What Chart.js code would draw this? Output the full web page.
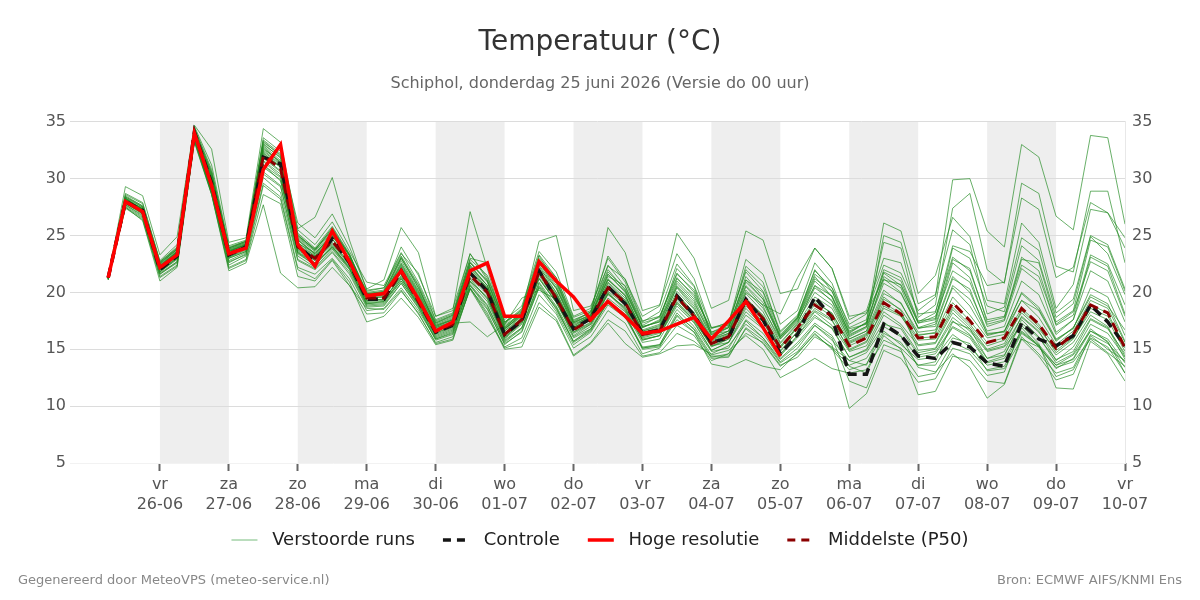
<!DOCTYPE html>
<html>
<head>
<meta charset="utf-8">
<script src="https://cdn.jsdelivr.net/npm/chart.js@4.4.1/dist/chart.umd.min.js"></script>
<style>
  body { margin: 0; background: #fff; font-family: "DejaVu Sans", sans-serif; }
  #wrap { position: relative; width: 1200px; height: 600px; }
  .foot { position: absolute; top: 572px; font-size: 13px; color: #888; }
</style>
</head>
<body>
<div id="wrap">
  <canvas id="plume" width="1200" height="600"></canvas>
  <div class="foot" style="left:18px">Gegenereerd door MeteoVPS (meteo-service.nl)</div>
  <div class="foot" style="right:18px">Bron: ECMWF AIFS/KNMI Ens</div>
</div>
<script>
// Temperature plume Schiphol - ensemble runs, control, HRES and median
// x values are hours after 25-06 00:00

const runHours = [6, 12, 18,
    24, 30, 36, 42, 48, 54, 60, 66, 72, 78, 84, 90, 96, 102, 108, 114,
    120, 126, 132, 138, 144, 150, 156, 162, 168, 174, 180, 186, 192, 198, 204, 210,
    216, 222, 228, 234, 240, 246, 252, 258, 264, 270, 276, 282, 288, 294, 300, 306,
    312, 318, 324, 330, 336, 342, 348, 354, 360];

const dayTicks = [24, 48, 72, 96, 120, 144, 168, 192, 216, 240, 264, 288, 312, 336, 360];
const dayNames = ['vr', 'za', 'zo', 'ma', 'di', 'wo', 'do', 'vr', 'za', 'zo', 'ma', 'di', 'wo', 'do', 'vr'];
const dayDates = ['26-06', '27-06', '28-06', '29-06', '30-06', '01-07', '02-07', '03-07',
    '04-07', '05-07', '06-07', '07-07', '08-07', '09-07', '10-07'];
const shadedDays = [24, 72, 120, 168, 216, 264, 312];

// Hoge resolutie (ends at +240h)
const hres = [21.3, 28.0, 27.1,
    22.2, 23.3, 34.0, 29.4, 23.4, 23.9, 30.8, 33.0, 24.2, 22.3, 25.4, 22.7,
    19.7, 19.9, 21.9, 19.4, 16.6, 17.4, 21.9, 22.6, 17.9, 17.9, 22.7, 21.0,
    19.6, 17.6, 19.2, 17.9, 16.4, 16.6, 17.2, 17.8, 15.9, 17.5, 19.2, 16.9, 14.4];

const control = [21.3, 28.0, 27.2,
    22.0, 23.2, 34.1, 29.6,  23.3, 24.0, 31.9, 31.3,  24.1, 22.8, 24.7, 22.6,
    19.4, 19.4, 21.9, 19.3,  16.5, 17.1, 21.7, 20.1,  16.3, 17.5, 21.9, 19.4,
    16.8, 17.7, 20.5, 19.0,  16.4, 16.7, 19.7, 18.0,  15.6, 16.0, 19.4, 17.6,
    14.6, 16.3, 19.6, 17.8,  12.8, 12.8, 17.2, 16.2,  14.4, 14.2, 15.6, 15.2,
    13.8, 13.5, 17.3, 15.9,  15.3, 16.2, 18.9, 17.4,  15.3];

const median = [21.3, 28.0, 27.1,
    22.1, 23.3, 34.0, 29.4,  23.4, 24.0, 32.0, 30.9,  24.0, 23.0, 24.5, 22.7,
    19.5, 19.5, 21.8, 19.2,  16.6, 17.2, 21.5, 20.0,  16.3, 17.6, 21.8, 19.5,
    16.7, 17.6, 20.4, 19.1,  16.3, 16.6, 19.6, 17.9,  15.5, 16.1, 19.3, 17.7,
    15.1, 16.9, 18.9, 17.9,  15.3, 16.0, 19.1, 18.1,  16.0, 16.1, 19.1, 17.5,
    15.6, 16.0, 18.6, 17.2,  15.1, 16.3, 18.9, 18.2,  15.1];

// Verstoorde runs
const run01 = [21.2,28.4,27.6, 22.5,23.8,34.2,30.1, 23.8,24.3,33.1,31.8, 25.2,23.9,25.8,23.4, 19.8,20.1,23.1,20.4, 17.2,17.8,22.6,20.9, 17.0,18.1,22.9,21.0, 17.5,18.3,22.0,20.2, 17.1,17.9,21.3,19.6, 16.8,17.4,21.8,20.1, 16.5,17.9,21.6,20.4, 17.2,18.1,22.4,21.7, 18.4,19.6,29.9,30.0, 25.4,24.0,33.0,31.9, 26.7,25.5,33.8,33.6, 26.0];
const run02 = [21.4,28.7,27.9, 22.8,24.2,34.6,31.2, 24.1,24.6,33.6,32.4, 26.1,24.8,26.9,24.0, 20.3,21.1,25.7,23.5, 17.9,18.6,23.4,21.3, 17.6,18.8,23.6,21.8, 17.9,18.6,23.0,20.9, 17.4,18.3,22.5,20.6, 16.9,17.3,22.9,21.6, 17.2,18.4,22.6,20.8, 16.9,17.6,24.4,23.9, 17.8,18.9,27.4,28.7, 22.0,20.8,29.6,28.7, 22.3,21.8,28.9,28.9, 22.6];
const run03 = [21.3,28.2,27.4, 22.4,23.6,34.1,30.3, 23.6,24.2,32.8,31.4, 24.8,23.6,25.3,23.2, 19.9,19.9,23.0,20.6, 17.0,17.6,22.3,20.6, 16.8,18.0,22.4,20.3, 17.1,17.9,21.6,20.0, 16.9,17.6,22.1,20.5, 16.1,16.9,21.1,19.4, 16.2,17.8,21.4,19.6, 16.4,17.4,26.1,25.4, 19.9,21.5,26.6,24.9, 19.3,19.0,26.1,24.4, 18.6,20.7,27.3,27.0, 24.8];
const run04 = [21.1,27.9,26.9, 22.0,23.1,33.8,29.1, 23.1,23.7,31.5,30.2, 23.6,22.6,24.0,22.3, 19.3,19.4,21.3,19.0, 16.4,17.0,21.0,19.5, 16.0,17.3,21.2,19.1, 16.4,17.2,19.8,18.7, 16.0,16.4,19.1,17.6, 15.2,15.9,18.8,17.4, 14.9,16.5,18.4,17.5, 15.0,15.7,18.6,17.9, 15.8,15.9,18.7,17.2, 15.3,15.8,18.2,16.8, 14.9,16.0,18.3,17.6, 14.8];
const run05 = [21.2,27.6,26.6, 21.6,22.6,33.4,28.8, 22.4,23.2,29.6,28.4, 22.2,21.6,23.0,21.2, 18.4,18.6,20.4,18.4, 15.9,16.4,20.6,18.6, 15.4,16.6,20.4,18.3, 15.4,16.5,18.9,17.8, 15.1,15.3,17.6,16.5, 14.2,14.3,16.9,15.8, 13.8,14.8,16.6,15.4, 9.8,11.1,14.9,14.2, 12.1,12.4,15.1,14.6, 12.7,13.0,16.9,15.2, 13.6,14.1,16.6,15.9, 13.8];
const run06 = [21.3,27.8,27.0, 21.8,22.9,33.6,29.0, 22.8,23.5,30.4,29.3, 23.2,22.2,23.8,22.0, 18.9,19.0,21.0,18.9, 16.1,16.7,20.9,19.2, 15.8,16.9,20.9,18.8, 16.0,16.8,19.5,18.3, 15.6,15.9,18.5,17.0, 14.8,15.1,17.6,16.4, 14.2,15.6,17.3,16.2, 13.5,12.9,16.2,15.0, 11.0,11.3,14.4,14.0, 12.2,12.0,16.1,14.6, 12.9,13.4,16.3,15.5, 13.9];
const run07 = [21.4,28.1,27.2, 22.2,23.4,34.1,29.6, 23.4,24.1,31.8,30.6, 23.8,22.8,24.2,22.4, 19.2,19.3,21.5,19.2, 16.3,16.9,21.2,19.4, 16.0,17.4,21.3,19.2, 16.5,17.3,20.0,18.5, 15.8,16.2,18.8,17.3, 14.9,15.6,18.0,16.8, 14.5,16.0,17.8,16.9, 14.3,14.9,17.4,16.2, 13.4,13.0,14.6,13.4, 10.7,11.9,15.9,14.4, 12.3,12.8,16.2,15.0, 14.0];
const run08 = [21.2,28.3,27.3, 22.3,23.5,34.3,29.9, 23.9,24.4,32.5,31.3, 24.6,23.4,25.0,22.9, 19.6,19.8,22.3,19.8, 16.8,17.4,21.9,20.3, 16.6,17.7,22.0,19.8, 16.9,17.7,20.8,19.3, 16.4,16.8,19.9,18.2, 15.6,16.2,19.4,17.9, 15.2,17.0,19.3,18.1, 15.6,16.3,19.6,18.4, 14.9,15.1,17.8,16.6, 14.8,15.2,17.1,15.5, 11.6,11.5,15.7,14.6, 12.2];
const run09 = [21.3,27.5,26.3, 21.0,22.2,33.2,28.6, 21.9,22.6,27.7,21.7, 20.4,20.5,22.2,20.6, 18.6,18.5,20.2,18.1, 15.6,16.1,20.3,17.8, 15.2,16.0,19.8,18.1, 15.1,16.1,18.4,17.3, 14.6,15.1,17.1,16.2, 14.0,14.6,16.4,15.6, 13.6,14.3,16.1,15.2, 14.0,13.6,17.2,16.8, 14.5,14.8,17.0,16.2, 13.9,14.4,17.6,16.1, 13.8,14.6,17.2,16.4, 14.3];
const run10 = [21.4,29.3,28.5, 23.3,24.9,34.7,32.6, 24.4,24.8,34.4,33.2, 25.6,26.6,30.1,24.6, 20.2,20.4,23.4,21.7, 17.5,18.1,22.9,21.5, 17.4,18.4,23.2,20.9, 17.4,18.0,21.4,20.6, 17.0,17.4,20.6,19.0, 16.3,16.6,20.2,18.6, 15.9,17.5,20.0,18.9, 15.9,16.6,20.2,19.0, 16.5,16.7,20.4,18.8, 16.2,16.6,19.9,18.5, 15.8,16.9,19.8,19.0, 15.7];
const run11 = [21.3,28.1,27.3, 22.6,23.9,34.0,29.9, 23.5,24.0,32.3,31.0, 24.3,23.5,24.9,23.0, 20.0,20.2,24.0,21.5, 17.9,18.4,27.1,22.1, 16.9,18.2,22.6,20.6, 17.2,17.9,21.1,19.8, 16.6,17.0,20.5,18.8, 15.9,16.4,20.5,18.8, 15.6,17.3,20.6,19.2, 15.9,16.6,21.4,20.4, 16.8,17.2,21.4,20.0, 16.6,17.0,21.0,19.8, 16.3,17.6,21.9,21.0, 17.4];
const run12 = [21.2,27.9,27.0, 21.9,23.0,33.7,29.2, 23.0,23.6,31.2,29.8, 23.5,22.4,24.1,22.1, 19.0,19.1,21.2,19.0, 16.5,17.3,17.4,16.1, 17.2,19.5,20.2,19.4, 16.1,17.0,19.9,18.4, 15.9,16.2,19.2,17.5, 15.3,15.6,18.6,17.0, 14.6,16.2,18.3,17.1, 14.8,15.3,18.3,17.2, 15.3,15.5,18.2,16.8, 14.9,15.3,17.8,16.5, 14.5,15.6,18.0,17.0, 14.4];
const run13 = [21.3,28.3,27.5, 22.3,23.6,34.2,30.0, 23.7,24.3,32.6,31.5, 24.9,23.7,25.5,23.3, 19.7,19.9,22.6,20.1, 17.1,17.7,22.4,20.6, 16.9,18.3,24.5,25.0, 18.4,18.8,22.3,21.2, 17.5,17.9,21.7,20.0, 16.4,16.9,21.4,19.6, 16.0,17.6,21.0,19.6, 16.1,16.9,20.8,19.9, 16.9,17.4,22.6,21.3, 17.0,17.5,22.1,20.9, 16.5,17.6,23.1,22.3, 18.1];
const run14 = [21.2,28.0,27.2, 22.1,23.4,34.1,29.5, 23.3,23.9,31.9,30.7, 24.1,23.1,24.7,22.8, 19.5,19.6,22.0,19.4, 16.9,17.5,21.8,20.3, 16.7,18.1,22.3,20.0, 16.9,17.9,25.7,23.5, 18.4,18.9,23.4,21.2, 16.9,17.1,22.3,20.9, 16.3,17.8,22.0,20.1, 16.8,17.2,21.7,20.6, 17.3,17.6,23.9,23.0, 18.8,18.3,24.1,22.8, 17.8,19.0,24.9,23.4, 19.8];
const run15 = [21.3,28.2,27.3, 22.4,23.7,34.4,30.5, 23.9,24.5,33.3,32.0, 25.0,23.8,25.6,23.2, 19.9,20.0,22.8,20.2, 17.3,18.0,23.0,22.6, 17.3,18.6,23.3,21.3, 17.8,18.4,23.2,21.1, 17.9,18.8,25.2,23.0, 18.6,19.3,25.4,24.6, 19.9,20.3,23.9,22.1, 17.6,18.4,23.0,22.6, 18.1,18.3,23.1,21.9, 17.6,17.9,22.4,21.4, 17.2,18.3,22.7,21.9, 17.9];
const run16 = [21.1,27.7,26.8, 21.7,22.7,33.5,28.9, 22.6,23.4,30.1,28.8, 22.8,22.0,23.5,21.6, 18.7,18.8,20.8,18.6, 15.9,16.5,20.7,18.9, 15.6,16.8,20.6,18.7, 15.7,16.7,19.3,18.1, 15.0,15.2,17.9,16.5, 13.7,13.4,14.1,13.5, 13.2,14.7,16.3,15.1, 13.6,14.2,16.6,15.4, 14.1,14.3,16.3,15.2, 13.6,13.9,16.5,15.3, 13.3,14.2,16.8,15.6, 13.4];
const run17 = [21.3,27.9,27.0, 22.0,23.0,33.9,29.0, 23.1,23.8,31.2,30.1, 23.5,22.6,23.9,22.1, 19.1,19.2,21.0,18.8, 16.0,16.6,20.6,18.8, 15.7,16.9,20.8,18.5, 15.7,16.8,19.1,18.0, 15.2,15.4,18.0,16.8, 14.5,14.9,16.2,15.0, 12.5,13.3,14.2,13.3, 12.9,13.2,15.8,15.1, 13.6,13.9,17.4,16.8, 14.2,14.5,17.3,16.0, 14.1,14.8,17.6,16.8, 14.6];
const run18 = [21.3,28.0,27.1, 22.1,23.3,34.0,29.3, 23.4,24.1,32.1,31.0, 24.0,23.0,24.4,22.6, 19.5,19.6,21.7,19.3, 16.6,17.2,21.5,20.1, 16.3,17.6,21.8,19.6, 16.7,17.6,20.4,19.1, 16.3,16.6,19.6,17.9, 15.5,16.1,19.3,17.7, 15.1,16.9,18.9,17.9, 15.3,16.0,19.1,18.1, 16.0,16.1,19.1,17.5, 15.6,16.0,18.6,17.2, 15.1,16.3,18.9,18.2, 15.1];
const run19 = [21.2,28.1,27.4, 22.6,23.8,34.3,30.2, 23.7,24.2,32.9,31.6, 24.7,23.4,25.2,23.0, 19.7,19.8,22.5,20.0, 17.1,17.6,22.1,20.4, 16.8,18.1,22.6,20.4, 17.0,18.0,21.2,19.7, 16.7,17.2,20.8,19.2, 16.0,16.6,20.9,19.4, 15.9,17.4,20.4,19.3, 16.2,17.0,25.0,24.4, 19.0,19.8,25.5,24.2, 18.1,18.7,24.8,23.7, 18.2,19.4,25.0,24.2, 20.3];
const run20 = [21.4,28.5,27.6, 22.7,24.0,34.5,30.8, 24.0,24.5,33.4,32.2, 25.5,24.2,26.2,23.6, 20.9,20.6,23.5,20.9, 17.6,18.2,23.4,21.1, 17.4,18.3,23.0,21.3, 17.6,18.2,22.4,20.5, 17.3,17.8,21.6,20.2, 16.5,17.2,22.0,20.5, 16.6,18.0,21.9,20.4, 16.6,17.3,21.8,21.0, 17.4,18.2,24.1,23.6, 20.6,20.9,28.3,27.3, 21.3,22.2,27.9,27.0, 23.9];
const run21 = [21.2,27.8,26.9, 21.8,23.0,33.8,29.0, 23.0,23.6,31.0,29.9, 23.4,22.4,24.0,22.2, 19.0,19.2,21.2,18.9, 16.2,16.8,21.0,19.6, 15.9,17.2,21.2,19.1, 16.2,17.2,19.9,18.6, 15.8,16.2,19.0,17.4, 14.9,15.6,18.3,16.9, 14.4,16.2,18.0,16.8, 14.3,15.0,18.0,17.0, 14.7,15.0,17.5,16.3, 14.2,14.8,17.9,16.6, 14.0,15.2,17.7,16.9, 14.1];
const run22 = [21.3,28.3,27.2, 22.3,23.5,34.1,29.8, 23.6,24.2,32.4,31.2, 24.4,23.2,25.0,23.0, 19.6,19.8,22.2,19.7, 16.9,17.4,21.9,20.4, 16.6,17.9,22.0,20.0, 16.9,17.7,20.9,19.5, 16.5,16.9,20.1,18.5, 15.8,16.4,19.9,18.3, 15.5,17.2,19.6,18.6, 15.7,16.4,19.9,19.1, 16.2,16.5,20.6,19.4, 16.4,16.5,20.0,18.7, 15.9,16.8,20.4,19.6, 16.2];
const run23 = [21.2,27.7,26.7, 21.6,22.7,33.6,28.7, 22.7,23.3,30.6,29.4, 22.9,22.1,23.6,21.8, 18.8,18.9,20.8,18.7, 15.8,16.3,20.3,18.5, 15.5,16.5,20.5,18.6, 15.6,16.6,19.2,17.9, 15.1,15.4,18.2,16.7, 14.3,14.6,17.5,16.0, 13.9,15.1,17.1,16.0, 12.2,11.6,15.4,14.8, 12.6,12.9,15.6,14.9, 13.2,13.5,16.4,15.3, 12.6,13.2,16.0,15.2, 12.9];
const run24 = [21.4,28.6,27.8, 22.7,23.9,34.2,30.4, 23.8,24.4,33.0,31.9, 25.1,23.7,25.7,23.3, 19.9,20.1,23.0,20.4, 17.3,17.9,22.7,21.0, 17.1,18.2,22.6,20.8, 17.3,18.1,21.6,20.1, 17.0,17.4,21.0,19.4, 16.3,16.9,20.6,19.1, 16.1,17.7,20.6,19.7, 16.5,17.3,22.0,21.3, 17.5,17.7,22.9,22.1, 17.4,17.8,23.1,21.9, 17.1,18.0,23.3,22.5, 18.9];
const run25 = [21.1,27.4,26.4, 21.3,22.3,33.3,28.6, 22.1,22.8,28.6,27.8, 21.4,21.0,22.8,20.6, 18.1,18.2,20.1,18.2, 15.5,15.9,20.4,18.2, 15.1,15.6,19.1,17.7, 14.5,15.6,17.6,16.6, 14.4,14.7,16.4,15.7, 14.4,14.4,16.8,15.5, 13.5,14.6,16.4,15.0, 13.2,13.7,16.4,15.6, 13.6,13.6,16.0,15.5, 13.1,13.3,15.9,15.2, 13.4,13.9,15.9,14.7, 13.5];
const run26 = [21.3,28.2,27.3, 22.3,23.6,34.1,30.0, 23.6,24.2,32.7,31.4, 24.6,23.3,25.1,22.9, 19.7,19.9,22.4,19.9, 17.0,17.6,22.2,20.6, 16.8,17.9,22.1,20.4, 17.3,18.0,21.1,19.7, 16.6,17.1,20.4,18.6, 15.9,16.6,20.0,18.9, 18.1,21.3,23.9,22.1, 17.9,18.2,21.2,20.0, 16.9,17.0,21.2,20.3, 16.3,16.6,19.3,18.4, 15.7,16.9,19.6,18.8, 16.7];
const run27 = [21.2,27.5,26.5, 21.4,22.4,33.4,28.7, 22.2,22.9,29.4,28.2, 22.0,21.2,22.9,20.9, 17.4,17.9,19.5,17.8, 15.4,15.8,20.4,18.0, 15.0,15.2,18.7,17.5, 14.4,15.5,17.3,15.5, 14.3,14.6,15.3,15.4, 14.6,15.3,17.2,16.0, 14.1,15.4,17.1,15.8, 14.0,14.7,17.0,16.1, 14.3,14.6,16.9,16.0, 13.8,14.2,16.6,15.4, 13.6,14.5,16.6,15.7, 12.9];
const run28 = [21.3,28.4,27.5, 22.5,23.8,34.4,30.6, 23.9,24.5,33.2,32.1, 25.0,23.8,25.4,23.3, 20.1,20.4,23.2,20.7, 17.4,18.0,22.6,21.0, 17.2,18.5,22.6,21.1, 17.4,18.3,21.8,20.3, 16.9,17.5,21.2,19.8, 16.5,17.0,21.1,20.0, 16.1,17.7,21.2,20.1, 16.3,17.0,21.1,20.7, 17.3,17.9,21.9,20.9, 17.2,17.6,22.9,22.6, 17.4,18.4,24.6,24.0, 20.1];
const run29 = [21.2,28.0,27.0, 22.0,23.2,33.9,29.2, 23.2,23.9,31.6,30.4, 23.7,22.8,24.3,22.5, 19.3,19.4,21.4,19.1, 16.4,17.1,21.3,19.8, 16.1,17.4,21.5,19.3, 16.5,17.4,20.1,18.9, 16.1,16.5,19.4,17.7, 15.3,15.9,19.0,17.4, 14.8,16.6,18.6,17.6, 14.9,15.6,18.8,18.0, 15.4,15.6,18.5,17.0, 15.0,15.5,18.4,17.0, 14.7,15.9,18.6,17.9, 15.4];
const run30 = [21.4,28.2,27.3, 22.3,23.5,34.2,29.7, 23.6,24.2,32.2,31.1, 24.2,23.2,24.7,22.8, 19.6,19.7,22.0,19.5, 16.7,17.3,21.6,20.1, 16.4,17.8,21.9,19.8, 16.8,17.6,20.6,19.3, 16.4,16.8,19.8,18.2, 15.7,16.3,19.5,18.0, 15.3,17.0,19.1,18.2, 15.5,16.2,19.4,18.5, 16.3,16.4,19.6,18.0, 16.0,16.3,19.3,17.8, 15.4,16.6,19.3,18.6, 15.6];

const runs = [run01, run02, run03, run04, run05, run06, run07, run08, run09, run10,
    run11, run12, run13, run14, run15, run16, run17, run18, run19, run20,
    run21, run22, run23, run24, run25, run26, run27, run28, run29, run30];

runs.concat([control, median]).forEach((r, i) => {
    if (r.length !== runHours.length) throw new Error('series ' + i + ' has ' + r.length + ' values');
});

const toPoints = (hours, vals) => vals.map((v, k) => ({ x: hours[k], y: v }));

Chart.defaults.font.family = '"DejaVu Sans", sans-serif';

// grey background for every other day
const dayBands = {
    id: 'dayBands',
    beforeDraw(chart) {
        const { ctx, chartArea, scales: { x } } = chart;
        ctx.save();
        ctx.fillStyle = '#eeeeee';
        shadedDays.forEach(h => {
            const x0 = x.getPixelForValue(h);
            const x1 = x.getPixelForValue(h + 24);
            ctx.fillRect(x0, chartArea.top, x1 - x0, chartArea.bottom - chartArea.top);
        });
        ctx.restore();
    }
};

const datasets = runs.map(r => ({
    label: 'Verstoorde runs',
    data: toPoints(runHours, r),
    borderColor: 'rgba(34, 139, 34, 0.68)',
    borderWidth: 1,
    order: 4
}));
datasets.push({
    label: 'Controle',
    data: toPoints(runHours, control),
    borderColor: '#151515',
    borderWidth: 3.5,
    borderDash: [10, 6],
    order: 3
});
datasets.push({
    label: 'Hoge resolutie',
    data: toPoints(runHours, hres),
    borderColor: '#ff0000',
    borderWidth: 3.5,
    order: 1
});
datasets.push({
    label: 'Middelste (P50)',
    data: toPoints(runHours, median),
    borderColor: '#8b0000',
    borderWidth: 3,
    borderDash: [10, 6],
    order: 2
});

// legend: one entry for the runs, then the three single lines
const legendOrder = [0, runs.length, runs.length + 1, runs.length + 2];
const legendGap = '\u2002\u2002';
const tickFont = { size: 16, lineHeight: 1.3 };

new Chart(document.getElementById('plume'), {
    type: 'line',
    data: { datasets },
    options: {
        responsive: false,
        animation: false,
        devicePixelRatio: 1,
        layout: { padding: { top: 0, bottom: 41, left: 0, right: 0 } },
        elements: { point: { radius: 0 }, line: { tension: 0 } },
        plugins: {
            title: {
                display: true,
                text: 'Temperatuur (°C)',
                color: '#333',
                font: { size: 28, weight: 'normal' },
                padding: { top: 26, bottom: 15 }
            },
            subtitle: {
                display: true,
                text: 'Schiphol, donderdag 25 juni 2026 (Versie do 00 uur)',
                color: '#666',
                font: { size: 16 },
                padding: { top: 0, bottom: 28 }
            },
            legend: {
                position: 'bottom',
                labels: {
                    usePointStyle: true,
                    pointStyleWidth: 26,
                    padding: 10,
                    color: '#222',
                    font: { size: 18 },
                    generateLabels(chart) {
                        const ds = chart.data.datasets;
                        return legendOrder.map((i, n) => ({
                            text: ' ' + ds[i].label + (n < legendOrder.length - 1 ? legendGap : ''),
                            strokeStyle: i === 0 ? 'rgba(60, 160, 70, 0.7)' : ds[i].borderColor,
                            fillStyle: ds[i].borderColor,
                            lineWidth: ds[i].borderWidth,
                            lineDash: ds[i].borderDash ? [8, 6] : [],
                            pointStyle: 'line',
                            fontColor: '#222',
                            hidden: false,
                            datasetIndex: i
                        }));
                    }
                }
            },
            tooltip: { enabled: false }
        },
        scales: {
            x: {
                type: 'linear',
                min: -7.3,
                max: 360,
                afterBuildTicks: s => { s.ticks = dayTicks.map(v => ({ value: v })); },
                afterFit: s => { s.height = 58; },
                grid: { drawOnChartArea: false, drawTicks: true, tickLength: 8, tickWidth: 2, tickColor: '#666' },
                border: { display: false },
                ticks: {
                    color: '#555',
                    font: tickFont,
                    padding: 3,
                    maxRotation: 0,
                    autoSkip: false,
                    callback: v => {
                        const i = dayTicks.indexOf(v);
                        return i < 0 ? '' : [dayNames[i], dayDates[i]];
                    }
                }
            },
            y: {
                position: 'left',
                min: 5,
                max: 35,
                afterFit: s => { s.width = 70; },
                grid: {
                    color: c => (c.tick && c.tick.value === 5 ? '#f2f2f2' : '#dcdcdc'),
                    drawTicks: false
                },
                border: { display: false },
                ticks: { stepSize: 5, color: '#555', font: tickFont, padding: 4 }
            },
            y2: {
                position: 'right',
                min: 5,
                max: 35,
                afterFit: s => { s.width = 75; },
                grid: { drawOnChartArea: false, drawTicks: false },
                border: { color: '#e8e8e8' },
                ticks: { stepSize: 5, color: '#555', font: tickFont, padding: 7 }
            }
        }
    },
    plugins: [dayBands]
});
</script>
</body>
</html>
